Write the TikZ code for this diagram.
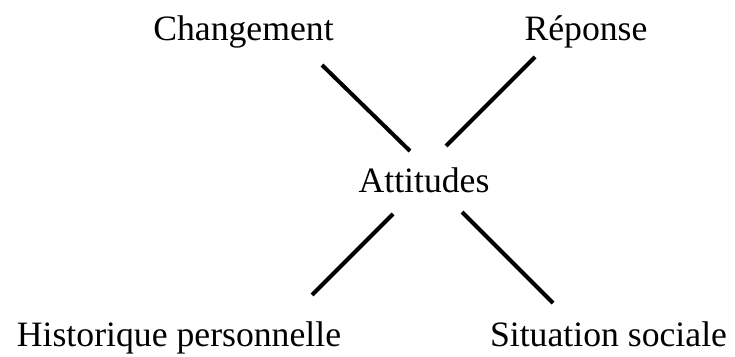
\documentclass[tikz,border=0pt]{standalone}
\usepackage{fontspec}
\setmainfont{Liberation Serif}
\begin{document}
\begin{tikzpicture}[x=1pt,y=-1pt,
  lbl/.style={anchor=base,inner sep=0pt,font=\fontsize{35.7}{42}\selectfont},
  link/.style={line width=4pt,black}]
\useasboundingbox (0,0) rectangle (735,356);
\node[lbl] (chg) at (243.5,40) {Changement};
\node[lbl] (rep) at (586,40) {Réponse};
\node[lbl] (att) at (424,192) {Attitudes};
\node[lbl] (his) at (179,346) {Historique personnelle};
\node[lbl] (sit) at (608.5,346) {Situation sociale};
\coordinate (a1) at (322,65); \coordinate (b1) at (410,151);
\coordinate (a2) at (535,57); \coordinate (b2) at (446,146);
\coordinate (a3) at (393,214); \coordinate (b3) at (312,295);
\coordinate (a4) at (462,212); \coordinate (b4) at (553,303);
\draw[link] (a1) -- (b1);
\draw[link] (a2) -- (b2);
\draw[link] (a3) -- (b3);
\draw[link] (a4) -- (b4);
\end{tikzpicture}
\end{document}
